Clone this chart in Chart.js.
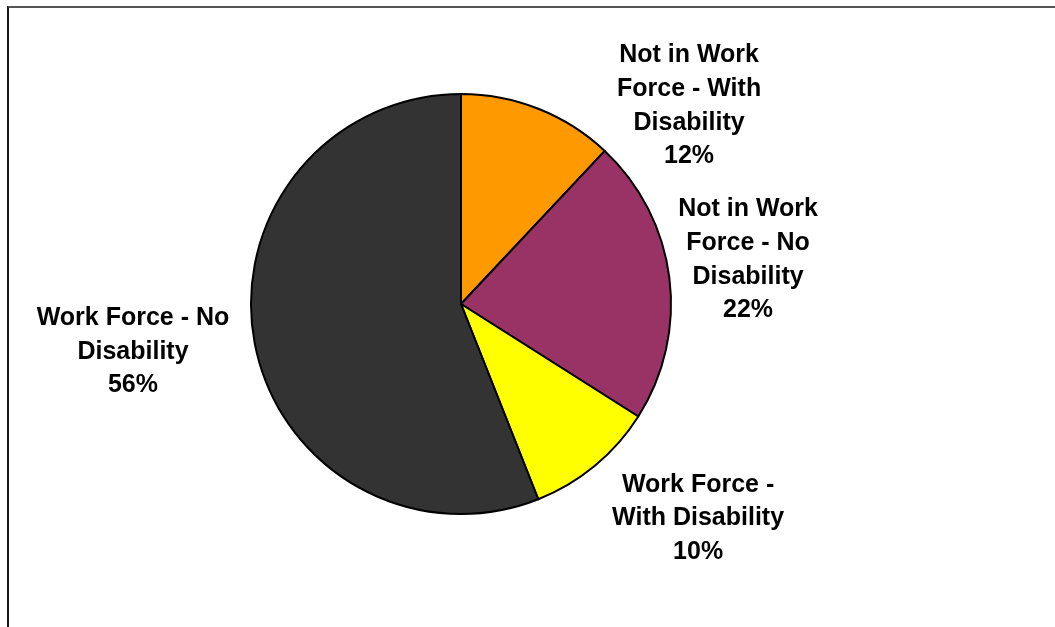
<!DOCTYPE html>
<html>
<head>
<meta charset="utf-8">
<title>Work Force and Disability</title>
<script src="https://cdn.jsdelivr.net/npm/chart.js@4"></script>
<style>
  html, body { margin: 0; padding: 0; background: #fff; overflow: hidden; }
  #wrap { position: relative; width: 1055px; height: 627px; }
  #chart { position: absolute; left: 0; top: 0; }
  #frame {
    position: absolute; left: 7px; top: 6px; width: 1200px; height: 800px;
    border-left: 2px solid #1a1a1a; border-top: 2px solid #555;
    pointer-events: none;
  }
</style>
</head>
<body>
<div id="wrap">
  <canvas id="chart" width="1055" height="627"></canvas>
  <div id="frame"></div>
</div>
<script>
// Slice categories (clockwise from 12 o'clock)
const categories = [
  'Not in Work Force - With Disability',
  'Not in Work Force - No Disability',
  'Work Force - With Disability',
  'Work Force - No Disability'
];
// Share of each group, in percent
const shares = [12, 22, 10, 56];
// Wrapped label text for each slice (percentage is appended from shares)
const labelLines = [
  ['Not in Work', 'Force - With', 'Disability'],
  ['Not in Work', 'Force - No', 'Disability'],
  ['Work Force -', 'With Disability'],
  ['Work Force - No', 'Disability']
];
const sliceColors = ['#FF9900', '#993366', '#FFFF00', '#333333'];

// Label block centres, in multiples of the pie radius from its centre
const labelPlacement = [
  [1.086, -0.943],
  [1.367, -0.210],
  [1.129, 1.021],
  [-1.562, 0.227]
];

const labelFont = 'bold 25px "Liberation Sans", Arial, sans-serif';
const lineHeight = 33.6;

const sliceLabels = {
  id: 'sliceLabels',
  afterDatasetsDraw(chart) {
    const ctx = chart.ctx;
    const meta = chart.getDatasetMeta(0);
    ctx.save();
    ctx.font = labelFont;
    ctx.fillStyle = '#000';
    ctx.textAlign = 'center';
    ctx.textBaseline = 'middle';
    meta.data.forEach((arc, i) => {
      const r = arc.outerRadius;
      const [fx, fy] = labelPlacement[i];
      const cx = arc.x + fx * r;
      const cy = arc.y + fy * r;
      const lines = labelLines[i].concat([shares[i] + '%']);
      const top = cy - (lines.length - 1) * lineHeight / 2;
      lines.forEach((t, k) => ctx.fillText(t, cx, top + k * lineHeight));
    });
    ctx.restore();
  }
};

new Chart(document.getElementById('chart'), {
  type: 'pie',
  data: {
    labels: categories,
    datasets: [{
      data: shares,
      backgroundColor: sliceColors,
      borderColor: '#000',
      borderWidth: 2,
      borderAlign: 'center'
    }]
  },
  options: {
    responsive: false,
    animation: false,
    rotation: 0,
    layout: { padding: { left: 250, top: 93, right: 383, bottom: 112 } },
    plugins: {
      legend: { display: false },
      tooltip: { enabled: false }
    }
  },
  plugins: [sliceLabels]
});
</script>
</body>
</html>
